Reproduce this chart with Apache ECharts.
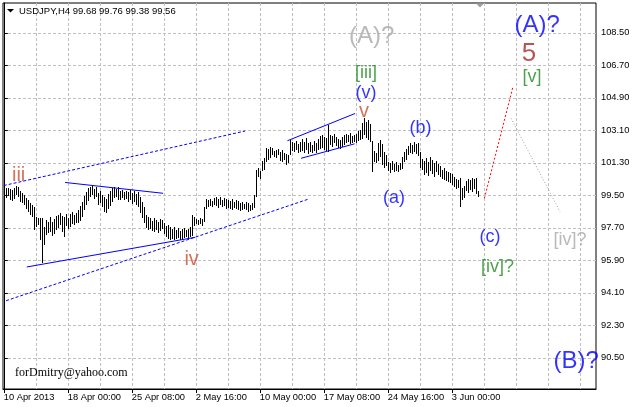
<!DOCTYPE html>
<html><head><meta charset="utf-8">
<script src="https://cdn.jsdelivr.net/npm/echarts/dist/echarts.min.js"></script>
<style>html,body{margin:0;padding:0;background:#fff}#c{width:633px;height:407px}</style>
</head><body><div id="c"></div>
<script>
// ---- data ----
var symbolTitle = 'USDJPY,H4';
var lastOHLC = [99.68, 99.76, 99.38, 99.56];
var xLabels = ['10 Apr 2013','18 Apr 00:00','25 Apr 08:00','2 May 16:00','10 May 00:00','17 May 08:00','24 May 16:00','3 Jun 00:00'];
var xLabelIdx = [0, 32, 64, 96, 128, 160, 192, 224];
var xGridIdx = [16,32,48,64,80,96,112,128,144,160,176,192,208,224,240,256,272,288];
var yTicks = [90.5, 92.3, 94.1, 95.9, 97.7, 99.5, 101.3, 103.1, 104.9, 106.7, 108.5];

var highs = [
99.96,99.90,99.93,99.85,99.79,99.90,100.02,99.96,99.74,99.63,99.52,99.35,99.24,99.07,98.96,
98.85,98.30,98.24,98.24,98.24,97.75,98.13,98.02,
98.30,98.02,98.19,98.36,
98.41,98.52,98.36,98.30,98.47,
98.24,98.47,98.58,98.41,98.52,
98.69,98.91,99.13,
99.46,99.68,99.90,
99.96,100.02,99.85,99.96,
99.63,99.74,99.52,
99.41,99.30,99.57,
99.74,99.90,99.96,
99.85,99.96,99.74,99.79,99.68,99.74,
99.68,99.79,99.63,99.74,99.57,99.68,
99.41,99.13,98.85,
98.41,98.30,98.24,
98.08,98.24,98.13,98.02,98.19,98.13,97.97,
97.80,97.86,97.75,
97.64,97.75,97.58,97.69,97.53,97.64,97.69,97.58,97.64,
97.75,98.41,98.30,
98.19,98.13,98.24,98.19,
98.85,
99.30,99.24,99.30,99.18,
99.35,99.41,99.30,99.41,99.24,99.35,99.30,
99.24,99.18,99.30,99.13,99.24,99.18,99.07,
99.13,99.02,99.13,99.07,98.96,99.07,
99.52,100.90,101.01,100.85,101.40,101.56,
102.12,102.07,102.18,
102.12,101.95,102.01,102.07,
101.90,102.01,101.84,101.79,101.73,
102.56,
102.45,102.40,102.51,102.34,102.45,
102.62,102.45,102.67,102.40,
102.45,102.29,102.51,102.40,
102.62,102.78,102.84,102.73,
102.67,103.39,
102.84,102.78,102.89,102.73,
102.62,102.56,102.73,102.84,
102.89,102.84,102.95,102.78,
102.84,102.89,103.06,
103.12,103.50,103.78,103.56,103.67,103.45,
102.51,101.95,101.84,102.40,102.56,102.34,101.90,101.73,
101.34,101.29,101.40,101.23,101.34,101.18,101.29,
101.62,101.90,102.07,
102.23,102.40,102.29,102.45,102.34,102.40,
101.90,101.51,
101.40,101.56,101.34,101.62,101.45,101.29,101.40,101.23,
101.12,100.90,101.01,100.85,100.79,100.73,100.68,
100.51,100.40,100.35,100.46,
99.90,100.02,
100.29,100.40,100.35,100.46,100.40,100.46,99.76
];
var lows = [
99.57,99.35,99.46,99.24,99.18,99.30,99.52,99.41,99.13,99.07,98.96,98.74,98.58,98.41,98.30,
97.58,97.75,97.86,97.02,95.75,96.75,97.30,97.41,
97.47,97.25,97.36,97.58,
97.69,97.86,97.47,97.19,97.80,
97.64,97.75,97.91,97.86,97.97,
97.97,98.08,98.30,
98.69,98.96,99.18,
99.41,99.52,99.30,99.41,
98.96,99.07,98.85,
98.58,98.52,98.74,
98.91,99.13,99.35,
99.41,99.24,99.24,99.35,99.24,99.30,
99.13,99.24,99.02,99.13,98.96,98.85,
98.52,98.24,97.97,
97.69,97.58,97.64,
97.53,97.47,97.58,97.41,97.53,97.64,97.36,
97.19,97.08,97.02,
97.08,97.02,97.08,97.14,97.02,97.08,97.14,97.19,97.08,
97.19,97.25,97.80,
97.91,97.86,97.91,97.80,
98.02,
98.74,98.85,98.91,98.85,
98.96,98.91,98.80,98.96,98.85,98.91,98.74,
98.80,98.74,98.69,98.80,98.74,98.69,98.63,
98.69,98.74,98.69,98.58,98.63,98.69,
98.80,99.41,100.51,100.40,100.85,100.90,
101.34,101.45,101.56,
101.73,101.62,101.56,101.73,
101.40,101.34,101.45,101.18,101.29,
101.73,
101.95,101.90,102.01,101.84,101.90,
101.95,101.84,102.01,101.79,
101.90,101.84,101.95,101.84,
102.01,102.07,102.12,102.01,
101.95,101.90,
102.29,102.18,102.40,102.23,
102.12,102.07,102.18,102.29,
102.40,102.45,102.34,102.40,
102.45,102.40,102.51,
102.56,102.62,102.84,102.67,102.56,102.45,
100.79,101.34,101.29,101.40,101.62,101.18,101.01,101.12,
100.85,100.73,100.90,100.79,100.85,100.79,100.90,
100.96,101.34,101.45,
101.73,101.84,101.79,101.90,101.79,101.68,
101.01,100.90,
100.62,100.73,100.57,100.85,100.68,100.51,100.79,100.62,
100.51,100.40,100.35,100.29,100.24,100.18,100.07,
99.96,99.85,99.90,98.86,
99.24,99.35,
99.74,99.63,99.79,99.68,99.85,99.57,99.38
];

// trend lines: endpoints [bar index, price]
var upperDotted   = [[0, 100.04], [120.65, 103.06]];
var upperSolid    = [[30.65, 100.21], [79.65, 99.61]];
var lowerSolid    = [[11.5, 95.53], [95.65, 97.17]];
var lowerDotted   = [[1.15, 93.66], [152.65, 99.30]];
var wedgeUpper    = [[141.8, 102.52], [175.65, 104.03]];
var wedgeLower    = [[148.65, 101.55], [175.4, 102.35]];
var projRed       = [[240.3, 99.33], [254.5, 105.48]];
var projGray      = [[253.65, 103.76], [278.15, 98.59]];

// wave labels: text and anchor [bar index, price]
var waveText  = ['iii','iv','v','(v)','[iii]','(A)?','(b)','(a)','(c)','[iv]?','[iv]?','(B)?','(A)?','5','[v]'];
var waveIdx   = [7.4, 93.9, 180.15, 181.15, 181.15, 183.9, 208.4, 195.15, 243.15, 246.9, 283.15, 286.15, 266.65, 262.65, 264.15];
var wavePrice = [100.57, 95.97, 104.14, 105.19, 106.27, 108.32, 103.25, 99.35, 97.19, 95.53, 97.02, 90.28, 108.93, 107.33, 106.05];
var waveKind  = ['minor','minor','minor','blue','green','grayBig','blue','blue','blue','green','gray','blueBig','blueBig','brown','green'];

// ---- styles ----
var FONT = 'Liberation Sans, Arial, sans-serif';
var kindStyle = {
  minor:   {color:'#c8502d', size:20},
  blue:    {color:'#0000ff', size:18},
  green:   {color:'#1f8a1f', size:18},
  gray:    {color:'#a8a8a8', size:18},
  grayBig: {color:'#a8a8a8', size:24},
  blueBig: {color:'#0000ff', size:24},
  brown:   {color:'#a52a2a', size:26}
};
var X_MIN = -0.4, X_MAX = 296.1, Y_MIN = 88.77, Y_MAX = 110.15;
var gridLine = {color:'#c0c0c0', width:1, type:[3,2]};

var chart = echarts.init(document.getElementById('c'), null, {renderer:'canvas'});

var barData = highs.map(function(h, i){ return [i, lows[i], h]; });

function trend(data, color, type){
  return {type:'line', data:data, xAxisIndex:0, yAxisIndex:0, showSymbol:false, symbol:'none',
    lineStyle:{color:color, width:1, type:type}, silent:true, z:4, animation:false};
}

var labelData = waveText.map(function(t, i){
  var s = kindStyle[waveKind[i]];
  return {value:[waveIdx[i], wavePrice[i]],
    label:{show:true, formatter:t, color:s.color, fontSize:s.size, fontFamily:FONT, position:'inside'}};
});

chart.setOption({
  animation:false,
  backgroundColor:'#ffffff',
  grid:{left:3, top:3, right:37, bottom:18, show:true, borderColor:'#000', borderWidth:1, backgroundColor:'transparent'},
  xAxis:[
    {type:'value', min:X_MIN, max:X_MAX, position:'bottom',
     axisLine:{show:true, lineStyle:{color:'#000', width:1}},
     axisTick:{show:false, customValues:xGridIdx},
     axisLabel:{show:false},
     splitLine:{show:true, lineStyle:gridLine}},
    {type:'value', min:X_MIN, max:X_MAX, position:'bottom',
     axisLine:{show:false},
     axisTick:{show:true, customValues:xLabelIdx, length:4, lineStyle:{color:'#000'}},
     axisLabel:{show:true, customValues:xLabelIdx, margin:4, align:'left', color:'#000', fontSize:9.3, fontFamily:FONT,
       formatter:function(v){ var k = xLabelIdx.indexOf(Math.round(v)); return k >= 0 ? xLabels[k] : ''; }},
     splitLine:{show:false}}
  ],
  yAxis:[
    {type:'value', min:Y_MIN, max:Y_MAX, position:'right',
     axisLine:{show:true, lineStyle:{color:'#000', width:1}},
     axisTick:{show:true, customValues:yTicks, length:4, lineStyle:{color:'#000'}},
     axisLabel:{show:true, customValues:yTicks, margin:5, color:'#000', fontSize:9.3, fontFamily:FONT,
       formatter:function(v){ return v.toFixed(2); }},
     splitLine:{show:true, lineStyle:gridLine}}
  ],
  series:[
    {type:'custom', xAxisIndex:0, yAxisIndex:0, data:barData, encode:{x:0, y:[1,2]}, clip:true, z:3, silent:true,
     renderItem:function(params, api){
       var p1 = api.coord([api.value(0), api.value(1)]);
       var p2 = api.coord([api.value(0), api.value(2)]);
       var x = Math.round(p1[0]) + 0.5;
       return {type:'line', shape:{x1:x, y1:Math.round(p1[1]), x2:x, y2:Math.round(p2[1])},
         style:{stroke:'#000', lineWidth:1}};
     }},
    trend(upperDotted, '#0000ff', [3,2]),
    trend(upperSolid, '#0000ff', 'solid'),
    trend(lowerSolid, '#0000ff', 'solid'),
    trend(lowerDotted, '#0000ff', [3,2]),
    trend(wedgeUpper, '#0000ff', 'solid'),
    trend(wedgeLower, '#0000ff', 'solid'),
    trend(projRed, '#ff0000', [2,2]),
    trend(projGray, '#a0a0a0', [1,2]),
    {type:'scatter', xAxisIndex:0, yAxisIndex:0, data:labelData, symbolSize:0, clip:false, silent:true, z:5}
  ],
  graphic:[
    {type:'polygon', shape:{points:[[7,9],[14,9],[10.5,12.5]]}, style:{fill:'#000'}, silent:true, z:10},
    {type:'text', x:19, y:11, style:{text:symbolTitle + ' ' + lastOHLC.map(function(v){return v.toFixed(2);}).join(' '),
      fill:'#000', font:'9.5px ' + FONT, textVerticalAlign:'middle', textAlign:'left'}, silent:true, z:10},
    {type:'polygon', shape:{points:[[476,3.5],[484,3.5],[480,7.5]]}, style:{fill:'#a0a0a0'}, silent:true, z:10},
    {type:'text', x:15, y:373, style:{text:'forDmitry@yahoo.com', fill:'#000', font:'12px Liberation Serif, Times New Roman, serif',
      textVerticalAlign:'middle', textAlign:'left'}, silent:true, z:10}
  ]
});
</script></body></html>
